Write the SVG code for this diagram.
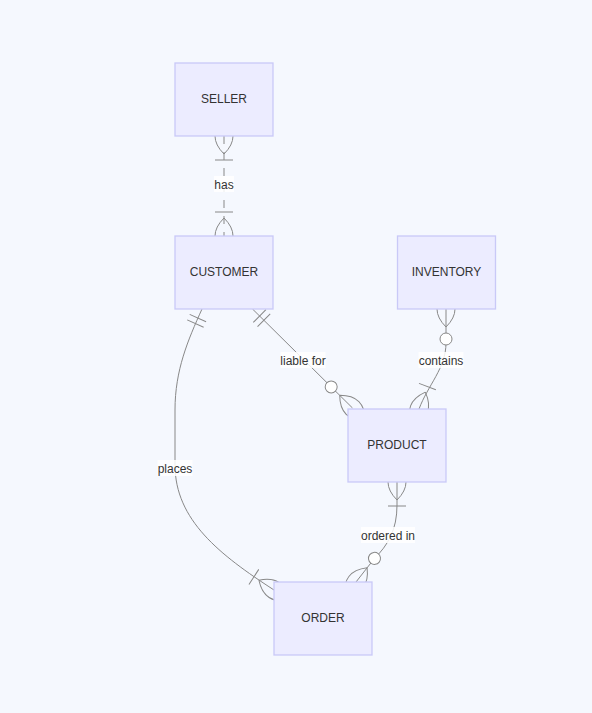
<svg xmlns="http://www.w3.org/2000/svg" width="592" height="713" viewBox="0 0 592 713">
<style>
.bg{fill:#f5f8fe}
.ent rect{fill:#ececff;stroke:#c9c9f7;stroke-width:1.3}
.ent text,.lbl text{font-family:"Liberation Sans",Arial,sans-serif;font-size:12px;fill:#333;text-anchor:middle}
.rel{fill:none;stroke:#888;stroke-width:1}
.dash{stroke-dasharray:8,8}
.lbl rect{fill:#ffffff;opacity:0.85}
.mk{fill:none;stroke:#888;stroke-width:1}
.mkc{fill:#ffffff;stroke:#888;stroke-width:1}
</style>
<defs>
<marker id="oneMoreS" markerUnits="userSpaceOnUse" orient="auto-start-reverse" refX="0" refY="0" markerWidth="60" markerHeight="30" overflow="visible">
<path class="mk" d="M-18,0 Q0,-18 18,0 Q0,18 -18,0 M-24,-9 L-24,9"/>
</marker>
<marker id="oneMoreE" markerUnits="userSpaceOnUse" orient="auto" refX="0" refY="0" markerWidth="60" markerHeight="30" overflow="visible">
<path class="mk" d="M-18,0 Q0,-18 18,0 Q0,18 -18,0 M-24,-9 L-24,9"/>
</marker>
<marker id="zeroMoreS" markerUnits="userSpaceOnUse" orient="auto-start-reverse" refX="0" refY="0" markerWidth="60" markerHeight="30" overflow="visible">
<path class="mk" d="M-18,0 Q0,-18 18,0 Q0,18 -18,0"/>
<circle class="mkc" cx="-30" cy="0" r="6"/>
</marker>
<marker id="zeroMoreE" markerUnits="userSpaceOnUse" orient="auto" refX="0" refY="0" markerWidth="60" markerHeight="30" overflow="visible">
<path class="mk" d="M-18,0 Q0,-18 18,0 Q0,18 -18,0"/>
<circle class="mkc" cx="-30" cy="0" r="6"/>
</marker>
<marker id="onlyOneS" markerUnits="userSpaceOnUse" orient="auto-start-reverse" refX="0" refY="0" markerWidth="60" markerHeight="30" overflow="visible">
<path class="mk" d="M-10,-9 L-10,9 M-16,-9 L-16,9"/>
</marker>
</defs>
<rect class="bg" x="0" y="0" width="592" height="713"/>
<g id="connectors">
<path id="e-has" class="rel dash" d="M224,136 L224,236" marker-start="url(#oneMoreS)" marker-end="url(#oneMoreE)"/>
<path id="e-liable" class="rel" d="M252.5,309 L352.5,408" marker-start="url(#onlyOneS)" marker-end="url(#zeroMoreE)"/>
<path id="e-contains" class="rel" d="M446,309 L446,343 C446,368 428,385 419,409" marker-start="url(#zeroMoreS)" marker-end="url(#oneMoreE)"/>
<path id="e-ordered" class="rel" d="M397,482 L397,505 C397,530 388,545 374,559 L356,582" marker-start="url(#oneMoreS)" marker-end="url(#zeroMoreE)"/>
<path id="e-places" class="rel" d="M202,309 C188,340 175,370 175,410 L175,465 C175,520 220,555 274,590" marker-start="url(#onlyOneS)" marker-end="url(#oneMoreE)"/>
<g class="lbl">
<rect x="214" y="176" width="20" height="16"/><text x="224" y="189">has</text>
<rect x="280.5" y="352" width="45" height="16"/><text x="303" y="365">liable for</text>
<rect x="418.5" y="352" width="45" height="16"/><text x="441" y="365">contains</text>
<rect x="361" y="527" width="54" height="16"/><text x="388" y="540">ordered in</text>
<rect x="157.5" y="460" width="35" height="16"/><text x="175" y="473">places</text>
</g>
</g>
<g id="SELLER" class="ent"><rect x="175" y="63" width="98" height="73"/><text x="224" y="103">SELLER</text></g>
<g id="CUSTOMER" class="ent"><rect x="175" y="236" width="98" height="73"/><text x="224" y="276">CUSTOMER</text></g>
<g id="INVENTORY" class="ent"><rect x="397.5" y="236" width="98" height="73"/><text x="446.5" y="276">INVENTORY</text></g>
<g id="PRODUCT" class="ent"><rect x="348" y="409" width="98" height="73"/><text x="397" y="449">PRODUCT</text></g>
<g id="ORDER" class="ent"><rect x="274" y="582" width="98" height="73"/><text x="323" y="622">ORDER</text></g>
</svg>
